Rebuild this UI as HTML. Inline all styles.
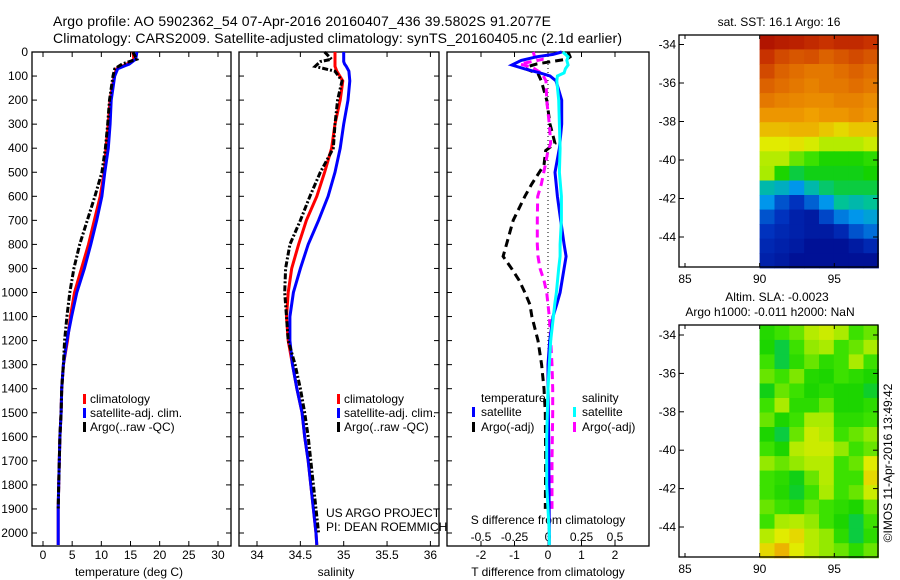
<!DOCTYPE html>
<html><head><meta charset="utf-8">
<style>
html,body{margin:0;padding:0;background:#fff;}
svg{display:block;font-family:"Liberation Sans",sans-serif;}
</style></head>
<body>
<svg id="c" width="900" height="580" viewBox="0 0 900 580" xmlns="http://www.w3.org/2000/svg"></svg>
<script>
// ---- data ----
const tDepth = [0,30,50,70,100,200,300,400,500,600,700,800,900,1000,1100,1200,1300,1400,1500,1600,1700,1800,1900,2000,2050];
const tClim  = [15.4,15.6,14.4,12.6,12.2,11.5,11.2,10.8,10.5,9.8,8.8,7.8,6.6,5.4,4.7,4.2,3.5,3.2,3.1,2.9,2.8,2.7,2.6,2.6,2.6];
const tSat   = [16.1,15.9,14.8,12.8,12.3,11.7,11.5,11.2,10.6,10.1,9.2,8.2,7.1,5.8,4.9,4.1,3.5,3.2,3.1,2.9,2.8,2.7,2.6,2.6,2.6];
const tArgo  = [15.4,16.1,13.6,12.3,12.0,11.4,11.1,10.7,10.1,8.9,7.6,6.3,5.3,4.6,4.1,3.7,3.5,3.2,3.1,2.9,2.8,2.7,2.6];
const sDepth = [0,30,40,50,60,80,120,200,300,400,500,600,700,800,900,1000,1100,1200,1300,1400,1500,1600,1700,1800,1900,2000,2050];
const sClim  = [34.9,34.9,34.9,34.9,34.9,34.92,34.99,34.96,34.9,34.86,34.78,34.69,34.57,34.48,34.4,34.36,34.34,34.36,34.41,34.46,34.52,34.55,34.59,34.62,34.65,34.68,34.69];
const sSat   = [35.0,35.0,35.0,35.01,35.03,35.06,35.07,35.05,35.0,34.96,34.9,34.82,34.71,34.59,34.5,34.42,34.38,34.38,34.41,34.46,34.52,34.55,34.59,34.62,34.65,34.68,34.69];
const sArgo  = [34.78,34.86,34.73,34.7,34.67,34.9,34.98,34.93,34.9,34.88,34.73,34.61,34.5,34.38,34.33,34.32,34.34,34.36,34.44,34.5,34.55,34.59,34.62,34.65,34.68,34.71];
const dDepth = [0,10,20,35,54,70,87,100,120,200,300,400,500,600,700,800,850,900,1000,1050,1100,1200,1300,1400,1600,1800,2000,2050];
const dTSat  = [0.41,0.15,-0.34,-0.8,-1.08,-0.7,-0.24,0.06,0.24,0.41,0.41,0.34,0.21,0.28,0.38,0.48,0.54,0.48,0.36,0.26,0.15,0.05,0.0,0.0,0.02,0.03,0.04,0.04];
const dSSat  = [0.11,0.13,0.15,0.14,0.15,0.13,0.12,0.07,0.066,0.08,0.085,0.09,0.085,0.1,0.1,0.09,0.09,0.08,0.063,0.05,0.04,0.02,0.01,0.0,-0.01,-0.01,0.01,0.01];
const aDepth = [0,20,30,50,62,70,90,120,200,300,380,410,470,550,600,700,800,850,900,950,1000,1050,1100,1200,1300,1400,1500,1700,1900];
const dTArgo = [0.6,0.66,0.55,-0.34,-0.64,-0.67,-0.3,-0.2,-0.04,0.06,0.21,-0.07,-0.12,-0.49,-0.69,-1.04,-1.24,-1.34,-1.09,-0.86,-0.69,-0.54,-0.48,-0.3,-0.19,-0.12,-0.08,-0.07,-0.08];
const dSArgo = [-0.11,-0.1,-0.035,-0.21,-0.13,-0.1,-0.045,-0.015,-0.01,0.01,0.02,0.0,-0.02,-0.05,-0.077,-0.08,-0.08,-0.075,-0.06,-0.03,-0.01,0.0,0.01,0.02,0.03,0.035,0.035,0.03,0.03];
const depthTicks = [0,100,200,300,400,500,600,700,800,900,1000,1100,1200,1300,1400,1500,1600,1700,1800,1900,2000];
const tTicks = [0,5,10,15,20,25,30];
const sTicks = [34,34.5,35,35.5,36];
const dTTicks = [-2,-1,0,1,2];
const dSTicks = [-0.5,-0.25,0,0.25,0.5];
const latTicks = [-34,-36,-38,-40,-42,-44];
const lonTicks = [85,90,95];
const sstGrid = [
[0.95,0.93,0.92,0.9,0.88,0.9,0.9,0.88],
[0.88,0.84,0.82,0.83,0.8,0.82,0.84,0.82],
[0.84,0.8,0.78,0.76,0.76,0.78,0.8,0.78],
[0.8,0.78,0.76,0.74,0.76,0.76,0.78,0.76],
[0.76,0.74,0.73,0.72,0.72,0.74,0.74,0.72],
[0.7,0.7,0.7,0.68,0.7,0.7,0.72,0.7],
[0.65,0.65,0.66,0.66,0.64,0.62,0.64,0.64],
[0.6,0.6,0.61,0.59,0.56,0.56,0.56,0.58],
[0.56,0.56,0.52,0.5,0.46,0.46,0.46,0.48],
[0.55,0.46,0.42,0.44,0.44,0.44,0.44,0.45],
[0.36,0.34,0.3,0.36,0.4,0.42,0.42,0.42],
[0.3,0.2,0.15,0.22,0.3,0.38,0.36,0.38],
[0.2,0.15,0.1,0.08,0.18,0.26,0.3,0.32],
[0.15,0.12,0.1,0.08,0.08,0.12,0.2,0.24],
[0.12,0.1,0.08,0.05,0.05,0.05,0.08,0.12],
[0.1,0.08,0.05,0.05,0.05,0.05,0.05,0.05]];
const slaGrid = [
[0.47,0.5,0.52,0.56,0.58,0.55,0.5,0.52],
[0.46,0.42,0.5,0.54,0.55,0.5,0.52,0.55],
[0.5,0.42,0.48,0.52,0.48,0.5,0.55,0.5],
[0.52,0.5,0.53,0.47,0.46,0.5,0.48,0.46],
[0.44,0.52,0.5,0.46,0.48,0.46,0.46,0.43],
[0.5,0.55,0.48,0.48,0.52,0.46,0.46,0.48],
[0.52,0.46,0.5,0.55,0.55,0.48,0.48,0.5],
[0.46,0.42,0.52,0.58,0.56,0.5,0.52,0.54],
[0.5,0.46,0.56,0.58,0.58,0.54,0.5,0.52],
[0.54,0.52,0.54,0.56,0.56,0.5,0.52,0.6],
[0.5,0.48,0.44,0.52,0.56,0.5,0.5,0.62],
[0.5,0.47,0.43,0.5,0.55,0.5,0.52,0.58],
[0.52,0.5,0.48,0.52,0.5,0.48,0.46,0.52],
[0.5,0.55,0.56,0.54,0.5,0.46,0.42,0.5],
[0.56,0.6,0.62,0.56,0.54,0.48,0.42,0.48],
[0.62,0.66,0.6,0.56,0.54,0.52,0.48,0.52]];

// ---- axes ----
const yD = d => 52 + d*0.2405;
const xT = t => 43 + t*5.833;
const xS = s => 257 + (s-34)*86.7;
const xdT = t => 548 + t*33.5;
const xdS = s => 548 + s*134;
const xLon = l => 685 + (l-85)*14.93;
const yLatTop = l => 44.5 + (-34-l)*19.25;
const yLatBot = l => 335 + (-34-l)*19.2;

const svg = document.getElementById('c');
const NS = 'http://www.w3.org/2000/svg';
function mk(tag, attrs, parent){ const e=document.createElementNS(NS,tag); for(const k in attrs) e.setAttribute(k,attrs[k]); (parent||svg).appendChild(e); return e; }
function txt(x,y,s,anchor,size,parent){ const e=mk('text',{x:x,y:y,'font-size':size||12,'text-anchor':anchor||'start','dominant-baseline':'central',fill:'#000'},parent); e.textContent=s; return e; }

const cmStops = [[0,[0,0,130]],[0.15,[0,50,190]],[0.3,[0,150,235]],[0.38,[0,195,150]],[0.45,[20,210,0]],[0.5,[60,225,0]],[0.55,[170,235,0]],[0.6,[225,235,0]],[0.68,[240,160,0]],[0.78,[225,110,0]],[0.88,[200,50,0]],[1,[160,0,0]]];
function cmap(v){
  v=Math.max(0,Math.min(1,v));
  for(let i=1;i<cmStops.length;i++){
    if(v<=cmStops[i][0]){
      const a=cmStops[i-1], b=cmStops[i], f=(v-a[0])/(b[0]-a[0]);
      const c=a[1].map((x,k)=>Math.round(x+(b[1][k]-x)*f));
      return `rgb(${c[0]},${c[1]},${c[2]})`;
    }
  }
  return 'rgb(160,0,0)';
}
function line(xs, ys, fx, fy, attrs, parent){
  const pts = ys.slice(0, Math.min(xs.length, ys.length)).map((d,i)=>fx(xs[i]).toFixed(1)+','+fy(d).toFixed(1)).join(' ');
  return mk('polyline', Object.assign({points:pts,fill:'none'},attrs), parent);
}

// titles
let t1 = txt(53,21,'Argo profile: AO 5902362_54 07-Apr-2016 20160407_436 39.5802S 91.2077E','start',14);
 
t1.setAttribute('textLength','498');
let t2 = txt(53,38,'Climatology: CARS2009. Satellite-adjusted climatology: synTS_20160405.nc (2.1d earlier)','start',14);
 
t2.setAttribute('textLength','569');

function frame(x0,x1,name){
  const g=mk('g',{});
   
  mk('rect',{x:x0,y:52,width:x1-x0,height:494,fill:'none',stroke:'#000','stroke-width':1.3},g);
  depthTicks.forEach(d=>{ mk('line',{x1:x0,x2:x0+5,y1:yD(d),y2:yD(d),stroke:'#000'},g); mk('line',{x1:x1,x2:x1-5,y1:yD(d),y2:yD(d),stroke:'#000'},g); });
  return g;
}
const dl = mk('g',{});  
depthTicks.forEach(d=>txt(28,yD(d),String(d),'end',12,dl));

// panel 1 temperature
const p1 = frame(32,231,'temperature-panel');
tTicks.forEach(t=>{ mk('line',{x1:xT(t),x2:xT(t),y1:52,y2:57,stroke:'#000'},p1); mk('line',{x1:xT(t),x2:xT(t),y1:546,y2:541,stroke:'#000'},p1); txt(xT(t),555,String(t),'middle',12,p1); });
txt(129,572,'temperature (deg C)','middle',12,p1);
let l;
l=line(tClim,tDepth,xT,yD,{stroke:'#f00','stroke-width':3},p1);  
l=line(tSat,tDepth,xT,yD,{stroke:'#00f','stroke-width':3},p1);  
l=line(tArgo,tDepth,xT,yD,{stroke:'#000','stroke-width':3,'stroke-dasharray':'6,2,2,2'},p1);  
function legend3(x,parent,name){
  const g=mk('g',{},parent);  
  [['#f00','climatology'],['#00f','satellite-adj. clim.'],['#000','Argo(..raw -QC)']].forEach((e,i)=>{
    mk('rect',{x:x,y:394+i*14,width:3,height:10,fill:e[0]},g); txt(x+7,399+i*14,e[1],'start',12,g);
  });
}
legend3(83,p1,'temperature-legend');

// panel 2 salinity
const p2 = frame(239,439,'salinity-panel');
sTicks.forEach(s=>{ mk('line',{x1:xS(s),x2:xS(s),y1:52,y2:57,stroke:'#000'},p2); mk('line',{x1:xS(s),x2:xS(s),y1:546,y2:541,stroke:'#000'},p2); txt(xS(s),555,String(s),'middle',12,p2); });
txt(336,572,'salinity','middle',12,p2);
l=line(sClim,sDepth,xS,yD,{stroke:'#f00','stroke-width':3},p2);  
l=line(sSat,sDepth,xS,yD,{stroke:'#00f','stroke-width':3},p2);  
l=line(sArgo,sDepth,xS,yD,{stroke:'#000','stroke-width':3,'stroke-dasharray':'6,2,2,2'},p2);  
legend3(337,p2,'salinity-legend');
let cr=txt(326,513,'US ARGO PROJECT','start',12,p2);  
cr=txt(326,527,'PI: DEAN ROEMMICH','start',12,p2);  

// panel 3 differences
const p3 = mk('g',{});  
mk('rect',{x:447,y:52,width:202,height:494,fill:'none',stroke:'#000','stroke-width':1.3},p3);
depthTicks.forEach(d=>{ mk('line',{x1:447,x2:452,y1:yD(d),y2:yD(d),stroke:'#000'},p3); });
dTTicks.forEach(t=>{ mk('line',{x1:xdT(t),x2:xdT(t),y1:52,y2:57,stroke:'#000'},p3); mk('line',{x1:xdT(t),x2:xdT(t),y1:546,y2:541,stroke:'#000'},p3); txt(xdT(t),555,String(t),'middle',12,p3); });
dSTicks.forEach(s=>{ txt(xdS(s),537,String(s),'middle',12,p3); });
txt(548,520,'S difference from climatology','middle',12,p3);
txt(548,572,'T difference from climatology','middle',12,p3);
mk('line',{x1:548,x2:548,y1:52,y2:546,stroke:'#000','stroke-dasharray':'1,3'},p3);
l=line(dTArgo,aDepth,xdT,yD,{stroke:'#000','stroke-width':3,'stroke-dasharray':'8,5'},p3);  
l=line(dSArgo,aDepth,xdS,yD,{stroke:'#f0f','stroke-width':3,'stroke-dasharray':'8,5'},p3);  
l=line(dTSat,dDepth,xdT,yD,{stroke:'#00f','stroke-width':3},p3);  
l=line(dSSat,dDepth,xdS,yD,{stroke:'#0ff','stroke-width':3},p3);  
const lg3=mk('g',{},p3);  
txt(481,398,'temperature','start',12,lg3);
txt(582,398,'salinity','start',12,lg3);
[['#00f','satellite',472,412],['#000','Argo(-adj)',472,427],['#0ff','satellite',573,412],['#f0f','Argo(-adj)',573,427]].forEach(e=>{
  mk('rect',{x:e[2],y:e[3]-5,width:3,height:10,fill:e[0]},lg3); txt(e[2]+9,e[3],e[1],'start',12,lg3);
});

// maps
function map(y0,y1,yLat,grid,name){
  const g=mk('g',{});  
  const rows=grid.length, cols=grid[0].length;
  const lat0=-33.5, lat1=-45.6, lon0=90, lon1=97.95;
  for(let r=0;r<rows;r++) for(let c=0;c<cols;c++){
    const ya=yLat(lat0+(lat1-lat0)*r/rows), yb=yLat(lat0+(lat1-lat0)*(r+1)/rows);
    const xa=xLon(lon0+(lon1-lon0)*c/cols), xb=xLon(lon0+(lon1-lon0)*(c+1)/cols);
    const cell=mk('rect',{x:xa.toFixed(1),y:ya.toFixed(1),width:(xb-xa+0.6).toFixed(1),height:(yb-ya+0.6).toFixed(1),fill:cmap(grid[r][c])},g);
    
    
  }
  mk('rect',{x:679,y:y0,width:199,height:y1-y0,fill:'none',stroke:'#000','stroke-width':1.3},g);
  latTicks.forEach(la=>{ const y=yLat(la); mk('line',{x1:679,x2:684,y1:y,y2:y,stroke:'#000'},g); mk('line',{x1:878,x2:873,y1:y,y2:y,stroke:'#000'},g); txt(676,y,String(la),'end',12,g); });
  lonTicks.forEach(lo=>{ const x=xLon(lo); mk('line',{x1:x,x2:x,y1:y0,y2:y0+4,stroke:'#000'},g); mk('line',{x1:x,x2:x,y1:y1,y2:y1-4,stroke:'#000'},g); txt(x,y1+12,String(lo),'middle',12,g); });
  return g;
}
map(35,267,yLatTop,sstGrid,'sst-map');
map(325,557,yLatBot,slaGrid,'sla-map');
let mt=txt(779,22,'sat. SST: 16.1 Argo: 16','middle',12);  
mt=txt(777,297,'Altim. SLA: -0.0023','middle',12);  
mt=txt(770,312,'Argo h1000: -0.011 h2000: NaN','middle',12);  
const cp=txt(0,0,'©IMOS 11-Apr-2016 13:49:42','middle',12);
cp.setAttribute('transform','translate(888,463) rotate(-90)');


</script>
</body></html>
